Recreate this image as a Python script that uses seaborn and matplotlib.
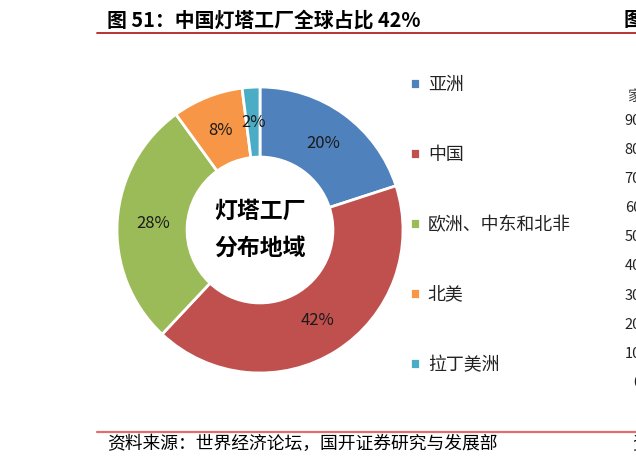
import matplotlib
matplotlib.use("Agg")
import matplotlib.pyplot as plt
from matplotlib.lines import Line2D
import seaborn as sns

# ---- data ----
regions = ["亚洲", "中国", "欧洲、中东和北非", "北美", "拉丁美洲"]
shares = [20, 42, 28, 8, 2]
colors = ["#4F81BD", "#C0504D", "#9BBB59", "#F79646", "#4BACC6"]
title = "图 51：中国灯塔工厂全球占比 42%"
center_label = "灯塔工厂\n分布地域"
source = "资料来源：世界经济论坛，国开证券研究与发展部"
side_ticks = ["90", "80", "70", "60", "50", "40", "30", "20", "10", "0"]

sns.set_theme(style="white")
plt.rcParams['font.family'] = ['Noto Sans CJK SC', 'DejaVu Sans']

W, H = 636, 466
fig = plt.figure(figsize=(W / 100, H / 100), dpi=100)

def fx(px):
    return px / W

def fy(py):
    return 1 - py / H

# donut axes: center (260, 230), radius 143 px
cx, cy, R = 260, 230, 143
ax = fig.add_axes([fx(cx - R), fy(cy + R), 2 * R / W, 2 * R / H])
wedges, texts, autotexts = ax.pie(
    shares, colors=colors, startangle=90, counterclock=False,
    autopct=lambda p: f"{p:.0f}%", pctdistance=0.75,
    wedgeprops=dict(width=0.49, edgecolor="white", linewidth=2),
    textprops=dict(fontsize=12, color="#1a1a1a"))
ax.set_xlim(-1.0, 1.0)
ax.set_ylim(-1.0, 1.0)
ax.set_aspect("equal")
ax.axis("off")
ax.text(0, 0.0, center_label, ha="center", va="center", fontsize=16.5,
        fontweight="bold", color="black", linespacing=1.8)

# legend
leg = fig.legend(wedges, regions, loc="upper left",
                 bbox_to_anchor=(fx(401), fy(67)), frameon=False,
                 handlelength=0.55, handleheight=0.55, handletextpad=0.45,
                 labelspacing=2.9, fontsize=12.9, borderpad=0)
for t in leg.get_texts():
    t.set_color("#222222")

# title and rules
fig.text(fx(107), fy(20), title, ha="left", va="center", fontsize=14.3,
         fontweight="bold", color="black")
fig.add_artist(Line2D([fx(97), 1.0], [fy(33), fy(33)], color="#B22222", lw=1.3))
fig.add_artist(Line2D([fx(97), 1.0], [fy(432), fy(432)], color="#E07070", lw=1.6))
fig.text(fx(107), fy(444), source, ha="left", va="center", fontsize=12.8,
         color="black")

# fragments of the neighbouring chart at the right edge
fig.text(fx(624), fy(20), "图", ha="left", va="center", fontsize=14.3,
         fontweight="bold", color="black")
fig.text(fx(627), fy(97), "家", ha="left", va="center", fontsize=10.5,
         color="#444444")
for i, t in enumerate(side_ticks):
    fig.text(fx(641), fy(121 + i * 29.1), t, ha="right", va="center",
             fontsize=10.5, color="#222222")
fig.text(fx(632), fy(444), "资", ha="left", va="center", fontsize=12.8,
         color="black")

fig.savefig("out.png", dpi=100)
